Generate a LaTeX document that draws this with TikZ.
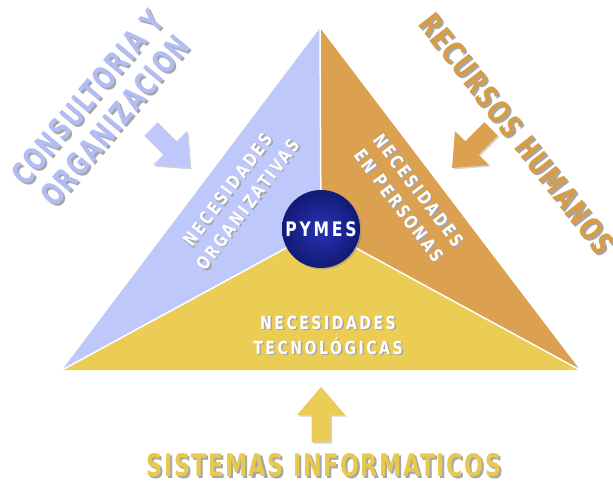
\documentclass[tikz,border=0pt]{standalone}
\usepackage{fontspec}
\setmainfont{DejaVu Sans}
\newfontfamily\labelfont[FakeStretch=0.72,LetterSpace=5]{DejaVu Sans}
\newfontfamily\needfont[FakeStretch=0.78,LetterSpace=14]{DejaVu Sans}
\usetikzlibrary{shadows}
\definecolor{orgblue}{RGB}{190,200,250}
\definecolor{orgbluetext}{RGB}{178,189,245}
\definecolor{hrorange}{RGB}{219,160,80}
\definecolor{hrorangetext}{RGB}{214,156,72}
\definecolor{techyellow}{RGB}{235,205,85}
\definecolor{techyellowtext}{RGB}{232,201,80}
\definecolor{ballinner}{RGB}{38,52,178}
\definecolor{ballouter}{RGB}{18,26,118}
\tikzset{
  sourcelabel/.style={
    font=\labelfont\bfseries\fontsize{31}{36}\selectfont,
    align=center,
    inner sep=0pt
    },
  needlabel/.style={
    font=\needfont\bfseries\fontsize{18}{25}\selectfont,
    align=center,
    text=white,
    inner sep=0pt
    },
  ghost/.style={text=black!35},
  divider/.style={white, line width=1.5pt},
  pymesball/.style={
    circle,
    minimum size=78pt,
    inner sep=0pt,
    inner color=ballinner,
    outer color=ballouter,
    drop shadow={shadow xshift=1.5pt, shadow yshift=-1.5pt, opacity=.4},
    text=white,
    font=\needfont\bfseries\fontsize{20}{24}\selectfont
    },
  pics/bigarrow/.style={
    code={
      \fill[#1, drop shadow={shadow xshift=1.5pt, shadow yshift=-1.5pt, opacity=.35}]
        (0,-9.5) -- (27,-9.5) -- (27,-24) -- (55,0) -- (27,24) -- (27,9.5) -- (0,9.5) -- cycle;
    }
  },
}
\begin{document}
\begin{tikzpicture}[x=1pt,y=-1pt]
\useasboundingbox (0,0) rectangle (613,482);
\coordinate (top) at (320,28);
\coordinate (left) at (62,370);
\coordinate (right) at (580,370);
\coordinate (hub) at (321,229);

\fill[orgblue] (left) -- (top) -- (hub) -- cycle;
\fill[hrorange] (top) -- (right) -- (hub) -- cycle;
\fill[techyellow] (left) -- (right) -- (hub) -- cycle;
\draw[divider] (hub) -- (top);
\draw[divider] (hub) -- (left);
\draw[divider] (hub) -- (right);

\node[pymesball] (pymes) at (hub) {PYMES};

\node[needlabel, ghost, rotate=53] (org-sh) at (239.5,198.5) {NECESIDADES\\ORGANIZATIVAS};
\node[needlabel, rotate=53] (org) at (238,197) {NECESIDADES\\ORGANIZATIVAS};
\node[needlabel, ghost, rotate=-53] (hr-sh) at (410.5,199.5) {NECESIDADES\\EN PERSONAS};
\node[needlabel, rotate=-53] (hr) at (409,198) {NECESIDADES\\EN PERSONAS};
\node[needlabel, ghost] (tech-sh) at (329.5,336.5) {NECESIDADES\\TECNOLÓGICAS};
\node[needlabel] (tech) at (328,335) {NECESIDADES\\TECNOLÓGICAS};

\pic[rotate=-45] (orgarrow) at (151,129) {bigarrow=orgblue};
\pic[rotate=-135] (hrarrow) at (491,129) {bigarrow=hrorange};
\pic[rotate=90] (techarrow) at (321,442) {bigarrow=techyellow};

\node[sourcelabel, ghost, rotate=50] (consult-sh) at (103,111) {CONSULTORIA Y\\ORGANIZACION};
\node[sourcelabel, text=orgbluetext, rotate=50] (consult) at (101,109) {CONSULTORIA Y\\ORGANIZACION};
\node[sourcelabel, ghost, rotate=-52] (people-sh) at (519,136) {RECURSOS HUMANOS};
\node[sourcelabel, text=hrorangetext, rotate=-52] (people) at (517,134) {RECURSOS HUMANOS};
\node[sourcelabel, ghost] (systems-sh) at (326,467) {SISTEMAS INFORMATICOS};
\node[sourcelabel, text=techyellowtext] (systems) at (324,465) {SISTEMAS INFORMATICOS};
\end{tikzpicture}
\end{document}
